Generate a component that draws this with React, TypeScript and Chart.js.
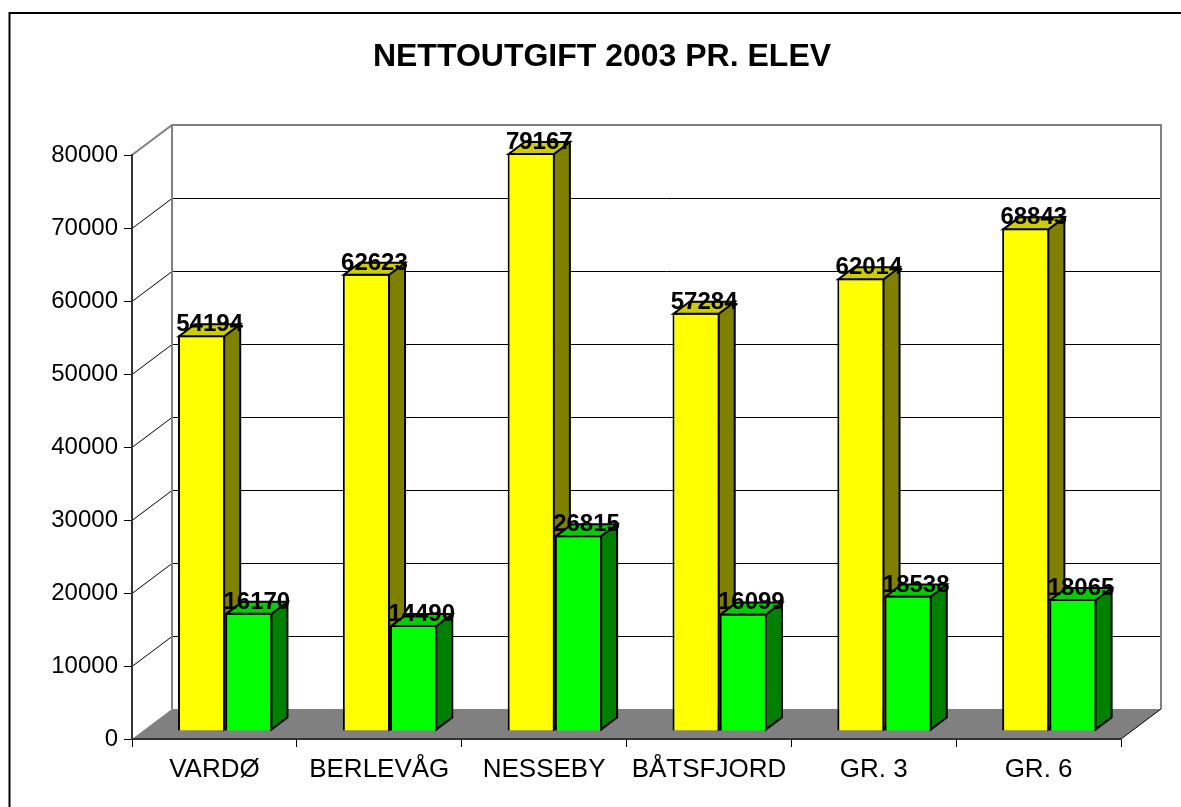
import React, { useEffect, useRef } from 'react';
import { Chart, registerables } from 'chart.js';

Chart.register(...registerables);

const TITLE = 'NETTOUTGIFT 2003 PR. ELEV';
const categories = ['VARDØ', 'BERLEVÅG', 'NESSEBY', 'BÅTSFJORD', 'GR. 3', 'GR. 6'];
const seriesA = [54194, 62623, 79167, 57284, 62014, 68843];
const seriesB = [16170, 14490, 26815, 16099, 18538, 18065];
const yTicks = [0, 10000, 20000, 30000, 40000, 50000, 60000, 70000, 80000];

const FONT = "'Liberation Sans', Arial, Helvetica, sans-serif";
const DX = 40;
const DY = -30;
const BAR_SHIFT = 0.27;
const BAR_DEPTH = 0.4;
const TITLE_X = 602;
const TITLE_Y = 57.5;
const faceColors = [
  { front: '#FFFF00', side: '#808000', top: '#CCCC00' },
  { front: '#00FF00', side: '#008000', top: '#00CC00' },
];

function drawFaces(ctx: any, el: any, colors: any) {
  const dx = DX * BAR_DEPTH;
  const dy = DY * BAR_DEPTH;
  const p = el.getProps(['x', 'y', 'base', 'width'], true);
  const l = p.x - p.width / 2 + 1;
  const r = p.x + p.width / 2 - 1;
  const t = p.y + 1;
  const b = p.base - 1;
  ctx.fillStyle = colors.side;
  ctx.beginPath();
  ctx.moveTo(r, t);
  ctx.lineTo(r + dx, t + dy);
  ctx.lineTo(r + dx, b + dy);
  ctx.lineTo(r, b);
  ctx.closePath();
  ctx.fill();
  ctx.stroke();
  ctx.fillStyle = colors.top;
  ctx.beginPath();
  ctx.moveTo(l, t);
  ctx.lineTo(l + dx, t + dy);
  ctx.lineTo(r + dx, t + dy);
  ctx.lineTo(r, t);
  ctx.closePath();
  ctx.fill();
  ctx.stroke();
}

const threeD = {
  id: 'threeD',
  beforeDraw(chart: any) {
    const { ctx } = chart;
    const xs = chart.scales.x;
    const ys = chart.scales.y;
    const L = xs.left;
    const R = xs.right;
    const T = ys.getPixelForValue(yTicks[yTicks.length - 1]);
    const B = ys.getPixelForValue(0);
    ctx.save();
    // outer frame
    ctx.strokeStyle = '#000';
    ctx.lineWidth = 2;
    ctx.beginPath();
    ctx.moveTo(9.5, chart.height + 5);
    ctx.lineTo(9.5, 13);
    ctx.lineTo(chart.width + 5, 13);
    ctx.stroke();
    // title
    ctx.fillStyle = '#000';
    ctx.font = `bold 32px ${FONT}`;
    ctx.textAlign = 'center';
    ctx.textBaseline = 'middle';
    ctx.fillText(TITLE, TITLE_X, TITLE_Y);
    // grid lines on side wall and back wall
    ctx.lineWidth = 1;
    ctx.strokeStyle = '#000';
    for (const v of yTicks) {
      if (v === 0 || v === yTicks[yTicks.length - 1]) continue;
      const py = Math.round(ys.getPixelForValue(v)) + 0.5;
      ctx.beginPath();
      ctx.moveTo(L, py);
      ctx.lineTo(L + DX, py + DY);
      ctx.lineTo(R + DX, py + DY);
      ctx.stroke();
    }
    // floor
    ctx.fillStyle = '#808080';
    ctx.beginPath();
    ctx.moveTo(L, B);
    ctx.lineTo(R, B);
    ctx.lineTo(R + DX, B + DY);
    ctx.lineTo(L + DX, B + DY);
    ctx.closePath();
    ctx.fill();
    ctx.strokeStyle = '#000';
    ctx.lineWidth = 1;
    ctx.beginPath();
    ctx.moveTo(R, B);
    ctx.lineTo(R + DX, B + DY);
    ctx.stroke();
    // wall outlines
    ctx.strokeStyle = '#808080';
    ctx.lineWidth = 2;
    ctx.beginPath();
    ctx.moveTo(L, T);
    ctx.lineTo(L + DX, T + DY);
    ctx.lineTo(R + DX, T + DY);
    ctx.lineTo(R + DX, B + DY);
    ctx.stroke();
    ctx.beginPath();
    ctx.moveTo(L + DX, T + DY);
    ctx.lineTo(L + DX, B + DY);
    ctx.stroke();
    ctx.restore();
  },
  beforeDatasetsDraw(chart: any) {
    const { ctx } = chart;
    ctx.save();
    ctx.translate(DX * BAR_SHIFT, DY * BAR_SHIFT);
  },
  afterDatasetsDraw(chart: any) {
    const { ctx } = chart;
    const n = chart.data.datasets.length;
    const metas = [];
    for (let i = 0; i < n; i++) metas.push(chart.getDatasetMeta(i));
    ctx.save();
    ctx.lineWidth = 2;
    ctx.strokeStyle = '#000';
    const count = chart.data.labels.length;
    for (let j = 0; j < count; j++) {
      for (let i = 0; i < n; i++) {
        const el = metas[i].data[j];
        if (i > 0) {
          el.draw(ctx);
          ctx.lineWidth = 2;
          ctx.strokeStyle = '#000';
        }
        drawFaces(ctx, el, faceColors[i]);
      }
    }
    // value labels
    const dx = DX * BAR_DEPTH;
    ctx.fillStyle = '#000';
    ctx.font = `bold 24px ${FONT}`;
    ctx.textAlign = 'center';
    ctx.textBaseline = 'alphabetic';
    chart.data.datasets.forEach((ds: any, i: number) => {
      metas[i].data.forEach((el: any, j: number) => {
        const p = el.getProps(['x', 'y'], true);
        ctx.fillText(String(ds.data[j]), p.x + dx / 2, p.y - 4);
      });
    });
    ctx.restore();
    ctx.restore();
  },
};

export default function App() {
  const ref = useRef<HTMLCanvasElement | null>(null);
  useEffect(() => {
    if (!ref.current) return;
    const chart = new Chart(ref.current, {
      type: 'bar',
      data: {
        labels: categories,
        datasets: [
          {
            label: 'Serie 1',
            data: seriesA,
            backgroundColor: faceColors[0].front,
            borderColor: '#000',
            borderWidth: 2,
            clip: false as any,
          },
          {
            label: 'Serie 2',
            data: seriesB,
            backgroundColor: faceColors[1].front,
            borderColor: '#000',
            borderWidth: 2,
            clip: false as any,
          },
        ],
      },
      options: {
        animation: false,
        responsive: false,
        layout: { padding: { left: 0, right: 60, top: 155, bottom: 0 } },
        datasets: { bar: { categoryPercentage: 0.573, barPercentage: 1.0 } },
        plugins: {
          legend: { display: false },
          tooltip: { enabled: false },
          title: { display: false },
        },
        scales: {
          x: {
            offset: true,
            grid: {
              display: true,
              drawOnChartArea: false,
              drawTicks: true,
              tickLength: 8,
              color: '#000',
              offset: true,
            },
            border: { display: true, color: '#333', width: 2 },
            ticks: { color: '#000', padding: 7, font: { family: FONT, size: 26 }, maxRotation: 0 },
            afterFit: (s: any) => {
              s.height = 68;
            },
          },
          y: {
            min: 0,
            max: 80000,
            grid: {
              display: true,
              drawOnChartArea: false,
              drawTicks: true,
              tickLength: 8,
              color: '#000',
            },
            border: { display: true, color: '#333', width: 2 },
            ticks: {
              stepSize: 10000,
              color: '#000',
              padding: 6,
              font: { family: FONT, size: 24 },
              callback: (v: any) => String(v),
            },
            afterFit: (s: any) => {
              s.width = 132;
            },
          },
        },
      },
      plugins: [threeD],
    });
    return () => chart.destroy();
  }, []);
  return (
    <div style={{ position: 'absolute', left: 0, top: 0, width: 1181, height: 807, background: '#fff' }}>
      <canvas ref={ref} width={1181} height={807} style={{ display: 'block' }} />
    </div>
  );
}
